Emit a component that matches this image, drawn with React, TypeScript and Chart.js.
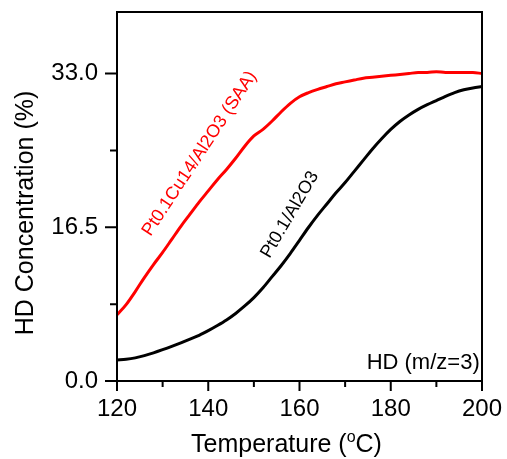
import React, { useEffect, useRef } from "react";
import { Chart, registerables } from "chart.js";

Chart.register(...registerables);

const temps = [120,122,124,126,128,130,132,134,136,138,140,142,144,146,148,150,152,154,156,158,160,162,164,166,168,170,172,174,176,178,180,182,184,186,188,190,192,194,196,198,200];
const saaValues = [7.1,8.2,9.6,11.1,12.5,13.8,15.2,16.6,17.9,19.2,20.4,21.6,22.7,23.9,25.2,26.3,27.0,27.9,28.9,29.8,30.5,30.95,31.3,31.6,31.9,32.1,32.3,32.5,32.6,32.7,32.8,32.9,33.0,33.1,33.1,33.2,33.1,33.1,33.1,33.1,33.0];
const ptValues = [2.26,2.33,2.48,2.72,3.02,3.36,3.72,4.1,4.5,4.9,5.4,5.95,6.55,7.25,8.05,8.95,10.0,11.2,12.4,13.7,15.1,16.5,17.8,19.0,20.2,21.3,22.5,23.7,24.9,26.0,27.0,27.85,28.55,29.15,29.65,30.1,30.55,30.95,31.25,31.45,31.6];
const xTicks = [120, 140, 160, 180, 200];
const xMinorTicks = [130, 150, 170, 190];
const yTicks = [0, 16.5, 33.0];
const yMinorTicks = [8.25, 24.75];

const saaLabel = "Pt0.1Cu14/Al2O3 (SAA)";
const ptLabel = "Pt0.1/Al2O3";
const cornerLabel = "HD (m/z=3)";
const FONT = "'Liberation Sans', Arial, sans-serif";

const framePlugin = {
  id: "framePlugin",
  afterDraw(chart: any) {
    const { ctx, chartArea: a, scales } = chart;
    const xs = scales.x, ys = scales.y;
    ctx.save();
    ctx.strokeStyle = "#000";
    ctx.lineWidth = 2;
    ctx.strokeRect(a.left, a.top, a.right - a.left, a.bottom - a.top);
    ctx.beginPath();
    xTicks.forEach((v) => { const x = xs.getPixelForValue(v); ctx.moveTo(x, a.bottom); ctx.lineTo(x, a.bottom + 10); });
    xMinorTicks.forEach((v) => { const x = xs.getPixelForValue(v); ctx.moveTo(x, a.bottom); ctx.lineTo(x, a.bottom + 6); });
    yTicks.forEach((v) => { const y = ys.getPixelForValue(v); ctx.moveTo(a.left, y); ctx.lineTo(a.left - 12, y); });
    yMinorTicks.forEach((v) => { const y = ys.getPixelForValue(v); ctx.moveTo(a.left, y); ctx.lineTo(a.left - 7, y); });
    ctx.stroke();

    // y title
    ctx.fillStyle = "#000";
    ctx.font = `25px ${FONT}`;
    ctx.textAlign = "center";
    ctx.textBaseline = "middle";
    ctx.save();
    ctx.translate(26, 213);
    ctx.rotate(-Math.PI / 2);
    ctx.fillText("HD Concentration (%)", 0, 0);
    ctx.restore();

    // x title with superscript o
    const p1 = "Temperature (";
    const p2 = "o";
    const p3 = "C)";
    ctx.font = `25px ${FONT}`;
    const w1 = ctx.measureText(p1).width;
    const w3 = ctx.measureText(p3).width;
    ctx.font = `16px ${FONT}`;
    const w2 = ctx.measureText(p2).width;
    const total = w1 + w2 + w3;
    const x0 = 286.5 - total / 2;
    const yb = 452;
    ctx.textAlign = "left";
    ctx.textBaseline = "alphabetic";
    ctx.font = `25px ${FONT}`;
    ctx.fillText(p1, x0, yb);
    ctx.font = `16px ${FONT}`;
    ctx.fillText(p2, x0 + w1, yb - 10);
    ctx.font = `25px ${FONT}`;
    ctx.fillText(p3, x0 + w1 + w2, yb);

    // curve labels
    ctx.textAlign = "center";
    ctx.textBaseline = "middle";
    ctx.font = `18px ${FONT}`;
    ctx.fillStyle = "#ff0000";
    ctx.save();
    ctx.translate(xs.getPixelForValue(138.1), ys.getPixelForValue(24.4));
    ctx.rotate(-56.6 * Math.PI / 180);
    ctx.fillText(saaLabel, 0, 0);
    ctx.restore();

    ctx.fillStyle = "#000";
    ctx.save();
    ctx.translate(xs.getPixelForValue(157.9), ys.getPixelForValue(17.85));
    ctx.rotate(-59.5 * Math.PI / 180);
    ctx.fillText(ptLabel, 0, 0);
    ctx.restore();

    ctx.font = `22px ${FONT}`;
    ctx.textAlign = "right";
    ctx.fillText(cornerLabel, xs.getPixelForValue(199.5), ys.getPixelForValue(1.94));
    ctx.restore();
  },
};

export default function App() {
  const ref = useRef<HTMLCanvasElement>(null);
  useEffect(() => {
    if (!ref.current) return;
    const chart = new Chart(ref.current, {
      type: "line",
      data: {
        datasets: [
          {
            label: saaLabel,
            data: temps.map((t, i) => ({ x: t, y: saaValues[i] })),
            borderColor: "#ff0000",
            borderWidth: 3,
            pointRadius: 0,
            cubicInterpolationMode: "monotone",
            fill: false,
          },
          {
            label: ptLabel,
            data: temps.map((t, i) => ({ x: t, y: ptValues[i] })),
            borderColor: "#000000",
            borderWidth: 3,
            pointRadius: 0,
            cubicInterpolationMode: "monotone",
            fill: false,
          },
        ],
      },
      options: {
        responsive: false,
        animation: false,
        devicePixelRatio: 1,
        layout: { padding: { top: 12, right: 25, left: 0, bottom: 0 } },
        plugins: { legend: { display: false }, tooltip: { enabled: false }, title: { display: false } },
        scales: {
          x: {
            type: "linear",
            min: 120,
            max: 200,
            afterBuildTicks: (s: any) => { s.ticks = xTicks.map((v) => ({ value: v })); },
            afterFit: (s: any) => { s.height = 78; s.paddingLeft = 0; s.paddingRight = 0; s.paddingTop = 0; s.paddingBottom = 0; },
            ticks: { color: "#000", font: { size: 24, family: FONT }, padding: 14, maxRotation: 0, autoSkip: false },
            grid: { display: false, drawTicks: false },
            border: { display: false },
          },
          y: {
            type: "linear",
            min: 0,
            max: 39.6,
            afterBuildTicks: (s: any) => { s.ticks = yTicks.map((v) => ({ value: v })); },
            afterFit: (s: any) => { s.width = 117; s.paddingLeft = 0; s.paddingRight = 0; s.paddingTop = 0; s.paddingBottom = 0; },
            ticks: { color: "#000", font: { size: 24, family: FONT }, padding: 19, callback: (v: any) => Number(v).toFixed(1) },
            grid: { display: false, drawTicks: false },
            border: { display: false },
          },
        },
      },
      plugins: [framePlugin],
    });
    return () => chart.destroy();
  }, []);
  return (
    <div style={{ position: "fixed", left: 0, top: 0, width: 507, height: 459, background: "#fff" }}>
      <canvas ref={ref} width={507} height={459} />
    </div>
  );
}
